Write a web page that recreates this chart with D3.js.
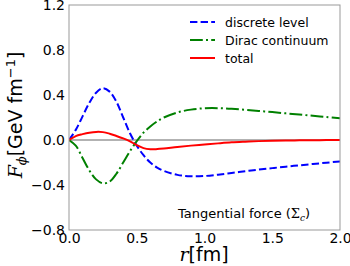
<!DOCTYPE html>
<html>
<head>
<meta charset="utf-8">
<script src="https://cdn.jsdelivr.net/npm/d3@7"></script>
<style>
  html, body { margin: 0; padding: 0; background: #fff; }
  svg { display: block; }
  text { font-family: "DejaVu Sans", sans-serif; fill: #000; }
  .math { font-family: "DejaVu Serif", "Liberation Serif", serif; font-style: italic; }
</style>
</head>
<body>
<svg id="chart" width="350" height="266"></svg>
<script>
// radial positions (fm)
const rVals = [0, 0.05, 0.1, 0.15, 0.2, 0.25, 0.3, 0.35, 0.4, 0.45, 0.5, 0.55, 0.6, 0.65, 0.7,
  0.8, 0.9, 1.0, 1.1, 1.2, 1.3, 1.4, 1.5, 1.6, 1.7, 1.8, 1.9, 2.0];
// tangential force, GeV fm^-1
const discrete = [0, 0.09, 0.21, 0.33, 0.42, 0.46, 0.43, 0.34, 0.20, 0.06, -0.05, -0.135, -0.20, -0.245, -0.275,
  -0.31, -0.322, -0.32, -0.308, -0.293, -0.278, -0.263, -0.25, -0.237, -0.225, -0.213, -0.202, -0.19];
const dirac = [0, -0.05, -0.16, -0.27, -0.35, -0.385, -0.37, -0.30, -0.20, -0.10, -0.01, 0.065, 0.12, 0.165, 0.20,
  0.245, 0.27, 0.282, 0.283, 0.277, 0.268, 0.258, 0.248, 0.237, 0.226, 0.215, 0.204, 0.193];
const total = [0, 0.035, 0.052, 0.065, 0.072, 0.07, 0.056, 0.036, 0.014, -0.012, -0.045, -0.072, -0.082, -0.081, -0.076,
  -0.062, -0.05, -0.04, -0.03, -0.021, -0.015, -0.01, -0.007, -0.005, -0.003, -0.002, -0.001, 0];

const xTicks = [0, 0.5, 1.0, 1.5, 2.0];
const yTicks = [-0.8, -0.4, 0.0, 0.4, 0.8, 1.2];
const seriesNames = ["discrete level", "Dirac continuum", "total"];

const svg = d3.select("#chart");
const pL = 69, pR = 340, pT = 5, pB = 230;

const x = d3.scaleLinear().domain([0, 2]).range([pL, pR]);
const y = d3.scaleLinear().domain([-0.8, 1.2]).range([pB, pT]);

const styles = [
  { color: "#0000ff", dash: "7.4,3.2" },
  { color: "#008000", dash: "12.8,3.2,2,3.2" },
  { color: "#ff0000", dash: null }
];

// zero line
svg.append("line")
  .attr("x1", x(0)).attr("x2", x(2))
  .attr("y1", y(0)).attr("y2", y(0))
  .attr("stroke", "#999").attr("stroke-width", 1.5);

const line = d3.line()
  .x((d, i) => x(rVals[i]))
  .y(d => y(d))
  .curve(d3.curveCatmullRom.alpha(0.5));

svg.append("clipPath").attr("id", "clip")
  .append("rect").attr("x", pL).attr("y", pT).attr("width", pR - pL).attr("height", pB - pT);

[discrete, dirac, total].forEach((s, k) => {
  svg.append("path")
    .attr("d", line(s))
    .attr("fill", "none")
    .attr("clip-path", "url(#clip)")
    .attr("stroke", styles[k].color)
    .attr("stroke-width", 2)
    .attr("stroke-dasharray", styles[k].dash);
});

// frame
svg.append("rect")
  .attr("x", pL).attr("y", pT)
  .attr("width", pR - pL).attr("height", pB - pT)
  .attr("fill", "none").attr("stroke", "#999").attr("stroke-width", 1);

// axes (labels only, ticks hidden)
const fmt = d3.format(".1f");
const xAxis = svg.append("g").attr("transform", `translate(0,${pB})`)
  .call(d3.axisBottom(x).tickValues(xTicks).tickFormat(fmt).tickSize(0).tickPadding(3));
const yAxis = svg.append("g").attr("transform", `translate(${pL},0)`)
  .call(d3.axisLeft(y).tickValues(yTicks).tickFormat(fmt).tickSize(0).tickPadding(4));
[xAxis, yAxis].forEach(g => {
  g.select(".domain").remove();
  g.selectAll("text").attr("font-family", "DejaVu Sans").attr("font-size", 14).attr("fill", "#000");
});

// x label
const xl = svg.append("text").attr("x", 204).attr("y", 261)
  .attr("text-anchor", "middle").attr("font-size", 19);
xl.append("tspan").attr("class", "math").text("r");
xl.append("tspan").text("[fm]");

// y label
const yl = svg.append("text")
  .attr("transform", "translate(22,115) rotate(-90)")
  .attr("text-anchor", "middle").attr("font-size", 19);
yl.append("tspan").attr("class", "math").text("F");
yl.append("tspan").attr("class", "math").attr("font-size", 13).attr("dy", 4).text("\u03d5");
yl.append("tspan").attr("dy", -4).text("[GeV fm");
yl.append("tspan").attr("font-size", 13).attr("dy", -7).text("\u22121");
yl.append("tspan").attr("dy", 7).text("]");

// legend
const legendY = [22, 40, 58];
seriesNames.forEach((name, k) => {
  svg.append("line")
    .attr("x1", 190).attr("x2", 215)
    .attr("y1", legendY[k]).attr("y2", legendY[k])
    .attr("stroke", styles[k].color).attr("stroke-width", 2)
    .attr("stroke-dasharray", styles[k].dash);
  svg.append("text").attr("x", 225).attr("y", legendY[k] + 4.5)
    .attr("font-size", 12.5).text(name);
});

// annotation
const ann = svg.append("text").attr("x", 178).attr("y", 218).attr("font-size", 13);
ann.append("tspan").text("Tangential force (");
ann.append("tspan").attr("font-family", "DejaVu Serif").text("\u03a3");
ann.append("tspan").attr("class", "math").attr("font-size", 9).attr("dy", 3).text("c");
ann.append("tspan").attr("dy", -3).text(")");
</script>
</body>
</html>
